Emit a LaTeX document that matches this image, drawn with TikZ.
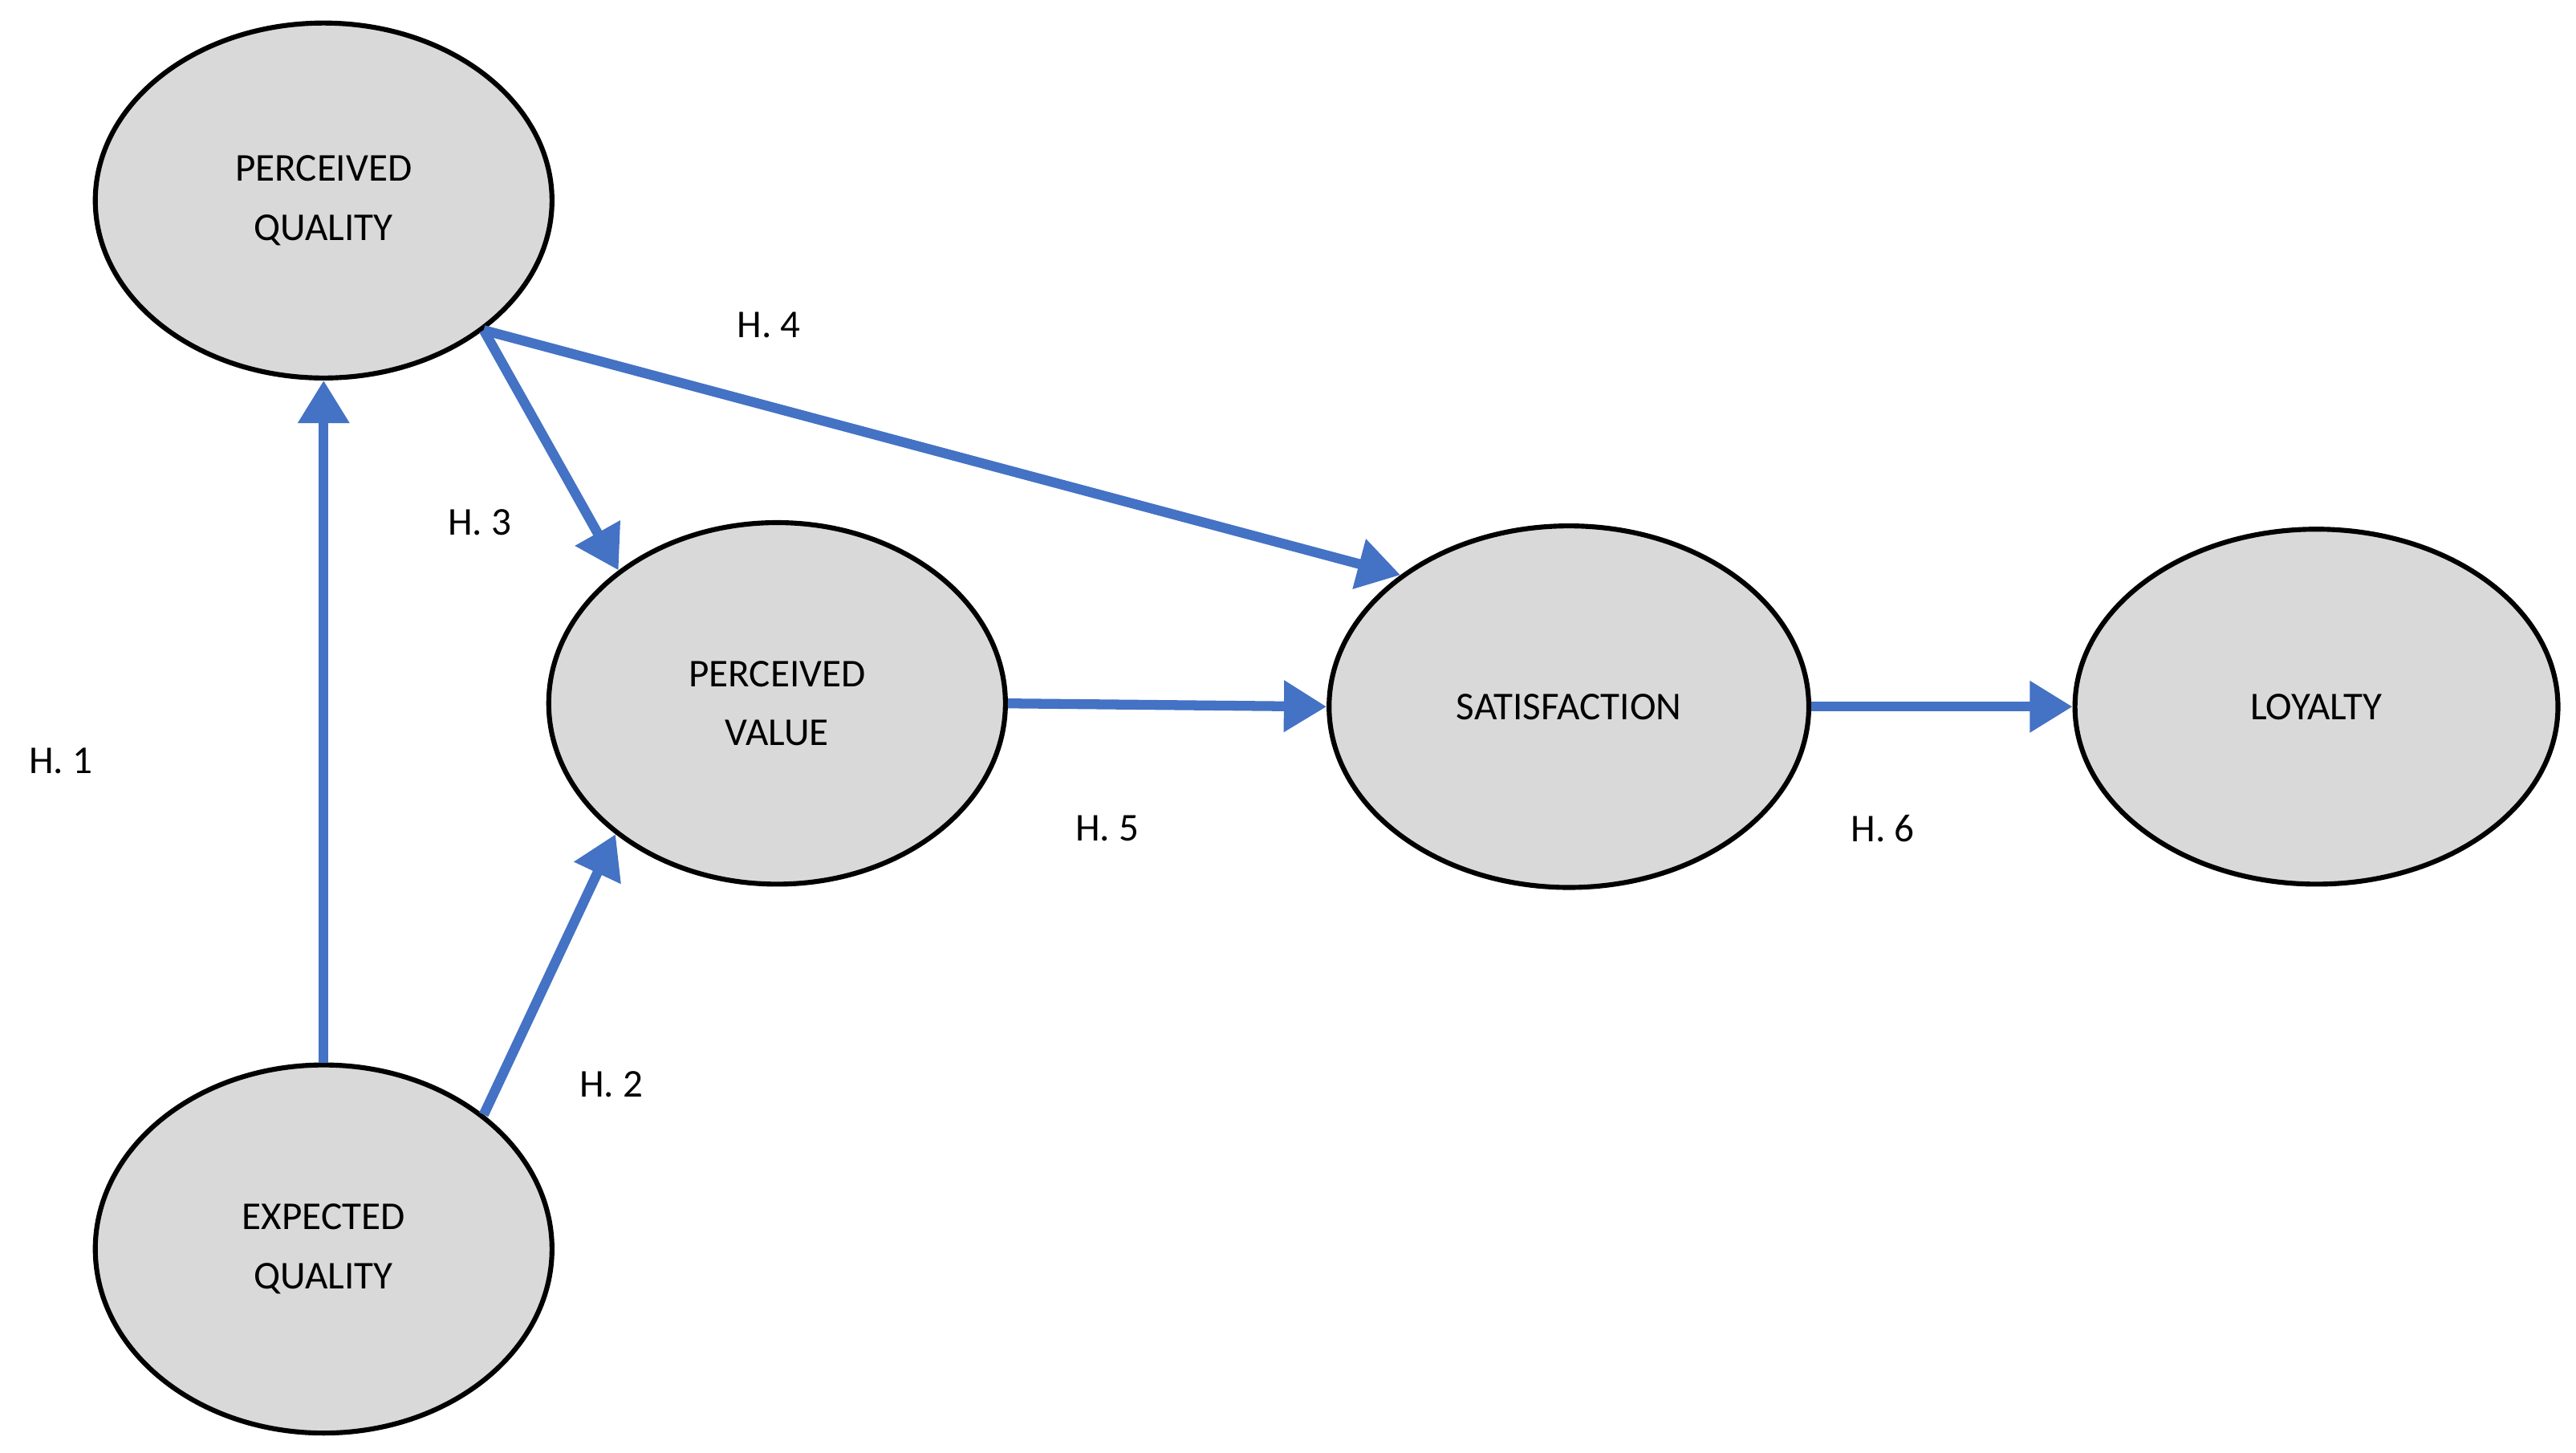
\documentclass[tikz,border=0pt]{standalone}
\usepackage{fontspec}
\setmainfont{Carlito}
\usetikzlibrary{shapes.geometric,arrows.meta}
\definecolor{ablue}{HTML}{4472C4}
\definecolor{egray}{HTML}{D9D9D9}
\begin{document}
\begin{tikzpicture}[x=1pt,y=-1pt,
  el/.style={ellipse,draw=black,line width=3pt,fill=egray,inner sep=0pt,align=center,font=\fontsize{24}{36}\selectfont},
  arr/.style={draw=ablue,line width=6pt,-{Triangle[length=26pt,width=30pt]}},
  lab/.style={font=\fontsize{24}{28}\selectfont}]
\useasboundingbox (0,0) rectangle (1568,884);
\node[el,minimum width=278pt,minimum height=216pt] (pq) at (197,122) {PERCEIVED\\QUALITY};
\node[el,minimum width=278pt,minimum height=220pt] (pv) at (473,428) {PERCEIVED\\VALUE};
\node[el,minimum width=278pt,minimum height=224pt] (eq) at (197,760) {EXPECTED\\QUALITY};
\node[el,minimum width=292pt,minimum height=220pt] (sat) at (955,430) {SATISFACTION};
\node[el,minimum width=294pt,minimum height=216pt] (loy) at (1410,430) {LOYALTY};
\draw[arr] (eq.north) -- (pq.south);
\draw[arr] (eq.40) -- (pv.219);
\draw[arr] (pq.-39) -- (pv.140);
\draw[arr] (pq.-39) -- (sat.142);
\draw[arr] (pv.east) -- (sat.west);
\draw[arr] (sat.east) -- (loy.west);
\node[lab] (h1) at (37,463) {H. 1};
\node[lab] (h2) at (372,660) {H. 2};
\node[lab] (h3) at (292,318) {H. 3};
\node[lab] (h4) at (468,198) {H. 4};
\node[lab] (h5) at (674,504) {H. 5};
\node[lab] (h6) at (1146,504) {H. 6};
\end{tikzpicture}
\end{document}
